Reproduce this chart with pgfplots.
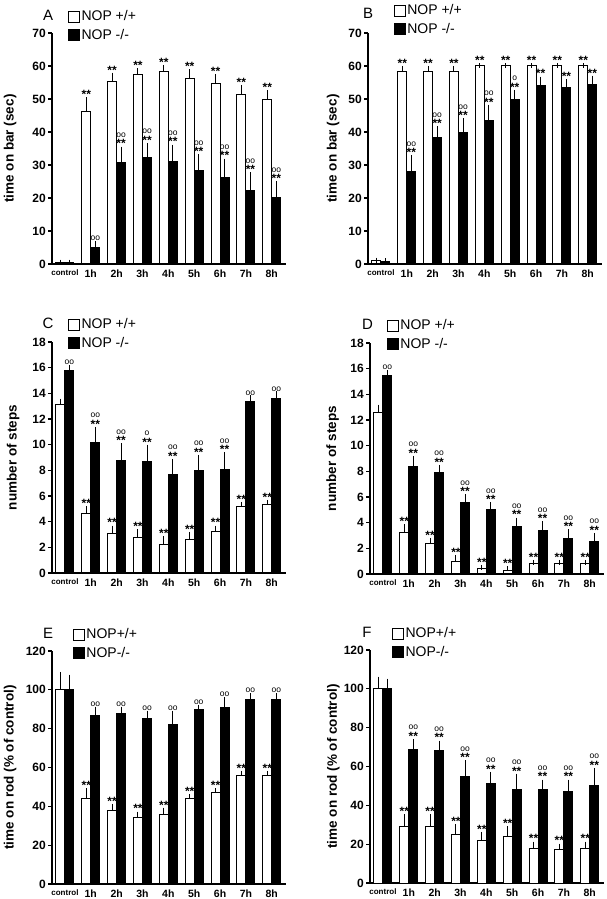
\documentclass[border=0pt]{standalone}
\usepackage{fontspec}
\setmainfont{Liberation Sans}
\usepackage{pgfplots}
\pgfplotsset{compat=1.18}
\usepackage{pgfplotstable}

\newcommand\st{\fontsize{12}{12}\selectfont\bfseries **}
\newcommand\ci[1]{\fontsize{8.5}{8.5}\selectfont #1}
\newcommand\labN{}
\newcommand\labS{\raisebox{-3.5pt}{\st}}
\newcommand\labC{\raisebox{1.5pt}{\ci{oo}}}
\newcommand\labSC{\raisebox{-3.5pt}{\vbox{\offinterlineskip\halign{\hfil##\hfil\cr\ci{oo}\cr\noalign{\kern2pt}\st\cr}}}}
\newcommand\labOS{\raisebox{-3.5pt}{\vbox{\offinterlineskip\halign{\hfil##\hfil\cr\ci{o}\cr\noalign{\kern2pt}\st\cr}}}}

\pgfplotstableread{
x wt wte ko koe wl kl
0 0.5 0.1 0.5 0.1 N N
1 46.3 3.4 5.0 1.2 S C
2 55.2 2.0 30.8 4.0 S SC
3 57.3 1.2 32.2 3.7 S SC
4 58.3 1.3 31.2 4.2 S SC
5 56.3 2.0 28.3 4.2 S SC
6 54.7 2.0 26.2 5.0 S SC
7 51.3 2.2 22.2 4.8 S SC
8 49.7 2.2 20.1 4.2 S SC
}\tabA
\pgfplotstableread{
x wt wte ko koe wl kl
0 1.0 0.2 0.8 0.2 N N
1 58.3 1.0 28.0 4.2 S SC
2 58.3 1.0 38.3 2.7 S SC
3 58.3 1.0 39.7 3.7 S SC
4 60.0 0.0 43.5 4.0 S SC
5 60.0 0.0 49.7 2.3 S OS
6 60.0 0.0 54.0 2.0 S S
7 60.0 0.0 53.5 1.8 S S
8 60.0 0.0 54.3 2.0 S S
}\tabB
\pgfplotstableread{
x wt wte ko koe wl kl
0 13.1 0.3 15.8 0.2 N C
1 4.6 0.4 10.2 1.0 S SC
2 3.1 0.4 8.8 1.1 S SC
3 2.8 0.4 8.7 1.1 S OS
4 2.2 0.45 7.7 1.0 S SC
5 2.6 0.4 8.0 1.0 S SC
6 3.2 0.3 8.1 1.1 S SC
7 5.2 0.15 13.4 0.25 S C
8 5.3 0.2 13.6 0.35 S C
}\tabC
\pgfplotstableread{
x wt wte ko koe wl kl
0 12.6 0.4 15.5 0.2 N C
1 3.2 0.5 8.4 0.6 S SC
2 2.4 0.2 7.9 0.4 S SC
3 1.0 0.3 5.6 0.4 S SC
4 0.4 0.1 5.0 0.4 S SC
5 0.3 0.1 3.7 0.5 S SC
6 0.8 0.1 3.4 0.5 S SC
7 0.8 0.1 2.8 0.5 S SC
8 0.8 0.1 2.5 0.5 S SC
}\tabD
\pgfplotstableread{
x wt wte ko koe wl kl
0 100 8 100 6.5 N N
1 44 4 87 3 S C
2 38 2 88 2 S C
3 34 2 85 3 S C
4 36 2 82 6 S C
5 44 1 90 1 S C
6 47 1 91 4 S C
7 56 1 95 2 S C
8 56 1 95 2 S C
}\tabE
\pgfplotstableread{
x wt wte ko koe wl kl
0 100 5 100 4 N N
1 29 5 69 4 S SC
2 29 5 68 4 S SC
3 25 4 55 7 S SC
4 22 3 51 5 S SC
5 24 4 48 7 S SC
6 18 2 48 4 S SC
7 17 2 47 5 S SC
8 18 2 50 8 S SC
}\tabF

\tikzset{letter/.style={font=\fontsize{15}{15}\selectfont, anchor=center}}
\pgfplotsset{
  panel/.style={
    scale only axis, width=234pt, height=231pt, anchor=south west,
    xmin=-0.5, xmax=8.55, ymin=0,
    axis x line*=bottom, axis y line*=left,
    axis line style={line width=1.2pt, -},
    xtick={0,...,8},
    xticklabels={{\fontsize{8}{8}\selectfont control},1h,2h,3h,4h,5h,6h,7h,8h},
    major x tick style={draw=none},
    ytick style={line width=1.2pt, black},
    tick align=outside, major tick length=4pt,
    /pgf/number format/assume math mode=true,
    yticklabel style={font=\fontsize{12}{12}\selectfont\bfseries, inner sep=2pt},
    xticklabel style={font=\fontsize{10.5}{10.5}\selectfont\bfseries, inner sep=1.5pt},
    ylabel style={font=\fontsize{13.5}{14}\selectfont\bfseries, anchor=center},
    clip=false,
    legend style={anchor=north west, draw=none, fill=none,
      font=\fontsize{14}{14}\selectfont, row sep=4pt, inner sep=0pt,
      nodes={inner sep=1.5pt}},
    legend cell align=left,
    legend image code/.code={\draw[##1, line width=0.9pt, draw=black] (0pt,-5.5pt) rectangle (11pt,5.5pt);},
  },
  wtbar/.style={ybar, bar width=0.35, bar shift=0pt, fill=white, draw=black, line width=1pt,
    error bars/.cd, y dir=plus, y explicit,
    error bar style={line width=1pt, black},
    error mark options={line width=1pt, mark size=2.5pt, black}},
  kobar/.style={ybar, bar width=0.35, bar shift=0pt, fill=black, draw=black, line width=1pt,
    error bars/.cd, y dir=plus, y explicit,
    error bar style={line width=1pt, black},
    error mark options={line width=1pt, mark size=2.5pt, black}},
  labs/.style={draw=none, mark=none, forget plot, point meta=explicit symbolic,
    nodes near coords={\csname lab\pgfplotspointmeta\endcsname},
    every node near coord/.append style={anchor=south, inner sep=0pt, yshift=1pt, black}},
}
\newcommand\panelplots[1]{%
\addplot[wtbar] table[x expr=\thisrow{x}-0.175, y=wt, y error=wte] {#1};
\addplot[kobar] table[x expr=\thisrow{x}+0.175, y=ko, y error=koe] {#1};
\addplot[labs] table[x expr=\thisrow{x}-0.175, y expr=\thisrow{wt}+\thisrow{wte}, meta=wl] {#1};
\addplot[labs] table[x expr=\thisrow{x}+0.175, y expr=\thisrow{ko}+\thisrow{koe}, meta=kl] {#1};
}

\begin{document}
\begin{tikzpicture}
\useasboundingbox (0,0) rectangle (607pt,899pt);

% ---------- A ----------
\begin{axis}[panel, at={(52pt,635pt)}, ymax=70, ytick={0,10,...,70},
  ylabel={time on bar (sec)}, ylabel style={at={(axis description cs:-0.179,0.5)}},
  legend style={at={(axis description cs:0.068,1.104)}}]
\panelplots{\tabA}
\legend{NOP +/+, NOP -/-}
\node[letter] at (axis description cs:-0.017,1.078) {A};
\end{axis}

% ---------- B ----------
\begin{axis}[panel, at={(368pt,635pt)}, ymax=70, ytick={0,10,...,70},
  ylabel={time on bar (sec)}, ylabel style={at={(axis description cs:-0.149,0.5)}},
  legend style={at={(axis description cs:0.11,1.13)}}]
\panelplots{\tabB}
\legend{NOP +/+, NOP -/-}
\node[letter] at (axis description cs:0,1.087) {B};
\end{axis}

% ---------- C ----------
\begin{axis}[panel, at={(52pt,326pt)}, ymax=18, ytick={0,2,...,18},
  ylabel={number of steps}, ylabel style={at={(axis description cs:-0.166,0.5)}},
  legend style={at={(axis description cs:0.068,1.108)}}]
\panelplots{\tabC}
\legend{NOP +/+, NOP -/-}
\node[letter] at (axis description cs:-0.017,1.082) {C};
\end{axis}

% ---------- D ----------
\begin{axis}[panel, at={(370pt,325pt)}, ymax=18, ytick={0,2,...,18},
  ylabel={number of steps}, ylabel style={at={(axis description cs:-0.16,0.5)}},
  legend style={at={(axis description cs:0.072,1.108)}}]
\panelplots{\tabD}
\legend{NOP +/+, NOP -/-}
\node[letter] at (axis description cs:-0.01,1.082) {D};
\end{axis}

% ---------- E ----------
\begin{axis}[panel, at={(52pt,15pt)}, height=233pt, ymax=120, ytick={0,20,...,120},
  ylabel={time on rod (\% of control)}, ylabel style={at={(axis description cs:-0.179,0.5)}},
  legend style={at={(axis description cs:0.089,1.103)}}]
\panelplots{\tabE}
\legend{NOP+/+, NOP-/-}
\node[letter] at (axis description cs:-0.017,1.077) {E};
\end{axis}

% ---------- F ----------
\begin{axis}[panel, at={(370pt,16pt)}, height=233pt, ymax=120, ytick={0,20,...,120},
  ylabel={time on rod (\% of control)}, ylabel style={at={(axis description cs:-0.157,0.5)}},
  legend style={at={(axis description cs:0.094,1.103)}}]
\panelplots{\tabF}
\legend{NOP+/+, NOP-/-}
\node[letter] at (axis description cs:-0.013,1.077) {F};
\end{axis}
\end{tikzpicture}
\end{document}
